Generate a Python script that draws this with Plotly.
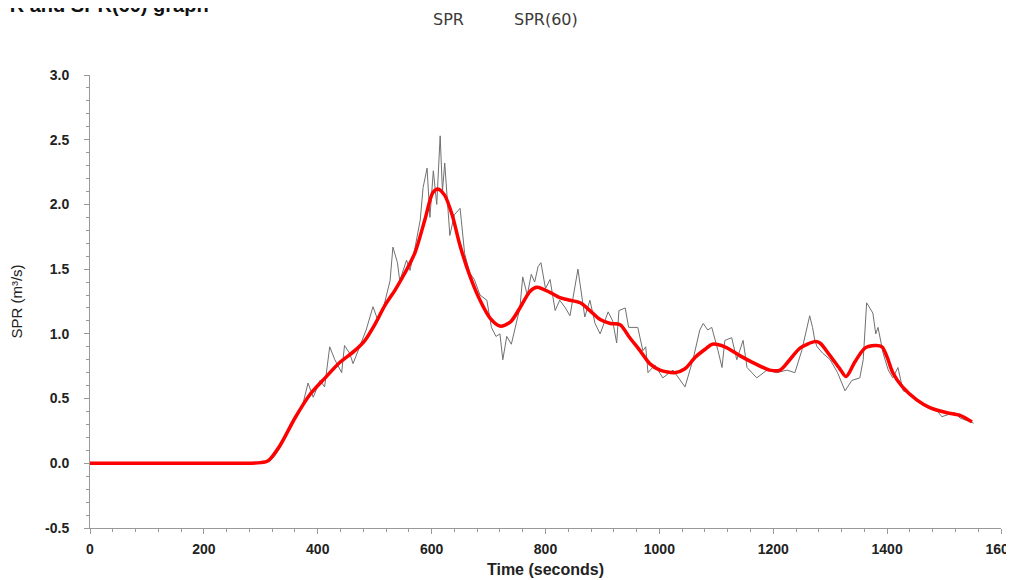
import plotly.graph_objects as go

# Raw SPR series (time in seconds, value in m^3/s)
raw_t = [0, 50, 100, 150, 200, 250, 290, 305, 316, 325, 334, 345, 357, 366, 374, 383, 392, 404, 412,
         421, 430, 442, 447, 456, 462, 474, 485, 497, 506, 514, 527, 532, 540, 544, 556, 562, 571,
         580, 585, 592, 597, 603, 609, 615, 619, 623, 632, 640, 650, 658, 667, 675, 685, 697, 705,
         713, 720, 725, 732, 740, 748, 755, 760, 768, 775, 781, 787, 792, 800, 808, 817, 825, 835,
         843, 857, 869, 878, 887, 896, 910, 918, 925, 929, 940, 946, 962, 971, 976, 980, 992, 1006,
         1024, 1045, 1059, 1071, 1077, 1085, 1092, 1103, 1110, 1115, 1127, 1136, 1147, 1154, 1171,
         1189, 1206, 1224, 1238, 1250, 1264, 1269, 1273, 1277, 1287, 1300, 1313, 1326, 1338, 1352,
         1358, 1364, 1370, 1375, 1380, 1384, 1393, 1402, 1410, 1419, 1428, 1440, 1449, 1470, 1487,
         1496, 1510, 1519, 1528, 1545, 1552]
raw_v = [0.0, 0.0, 0.0, 0.0, 0.0, 0.0, 0.0, 0.0, 0.02, 0.06, 0.12, 0.22, 0.33, 0.40, 0.46, 0.62, 0.51, 0.64, 0.59,
         0.90, 0.80, 0.70, 0.91, 0.85, 0.77, 0.90, 1.03, 1.21, 1.10, 1.18, 1.41, 1.67, 1.55, 1.41, 1.57, 1.49, 1.67,
         1.88, 2.13, 2.28, 1.90, 2.26, 2.00, 2.53, 2.10, 2.32, 1.76, 1.92, 1.97, 1.62, 1.47, 1.42, 1.30, 1.26, 1.05,
         0.98, 1.00, 0.80, 0.98, 0.92, 1.08, 1.20, 1.44, 1.30, 1.46, 1.40, 1.52, 1.55, 1.35, 1.42, 1.18, 1.26, 1.20,
         1.14, 1.50, 1.13, 1.26, 1.08, 1.00, 1.17, 1.10, 0.93, 1.18, 1.20, 1.05, 1.05, 0.87, 0.90, 0.70, 0.76, 0.66,
         0.72, 0.59, 0.80, 1.03, 1.08, 1.03, 1.05, 0.87, 0.74, 0.95, 0.97, 0.80, 0.95, 0.74, 0.66,
         0.72, 0.70, 0.72, 0.70, 0.87, 1.14, 1.05, 0.95, 0.90, 0.85, 0.80, 0.70, 0.56, 0.64, 0.66,
         0.80, 1.24, 1.20, 1.16, 1.00, 1.05, 0.85, 0.72, 0.66, 0.74, 0.56, 0.54, 0.49, 0.43, 0.41,
         0.36, 0.38, 0.39, 0.35, 0.32, 0.31]

# SPR(60) smoothed series
avg_t = [0, 100, 200, 300, 313, 334, 360, 386, 413, 439, 465, 483, 500, 518, 536, 553, 571, 588, 602,
         611, 623, 636, 650, 667, 685, 703, 720, 738, 755, 773, 785, 808, 825, 843, 861, 878, 896,
         914, 931, 948, 966, 983, 1001, 1027, 1045, 1063, 1080, 1093, 1115, 1142, 1168, 1194, 1212,
         1229, 1247, 1273, 1282, 1300, 1317, 1328, 1343, 1361, 1379, 1391, 1400, 1410, 1427, 1452,
         1475, 1505, 1528, 1549]
avg_v = [0.0, 0.0, 0.0, 0.005, 0.02, 0.14, 0.35, 0.53, 0.66, 0.78, 0.87, 0.95, 1.07, 1.22, 1.34, 1.47, 1.63, 1.88, 2.09,
         2.12, 2.07, 1.92, 1.68, 1.45, 1.26, 1.12, 1.06, 1.09, 1.20, 1.33, 1.36, 1.32, 1.28, 1.26, 1.24, 1.18, 1.11,
         1.08, 1.07, 0.97, 0.87, 0.77, 0.72, 0.70, 0.73, 0.82, 0.88, 0.92, 0.90, 0.83, 0.77, 0.72, 0.72,
         0.80, 0.89, 0.94, 0.93, 0.83, 0.73, 0.67, 0.78, 0.89, 0.91, 0.90, 0.82, 0.70, 0.59, 0.49,
         0.43, 0.39, 0.37, 0.32]

x_ticks = [0, 200, 400, 600, 800, 1000, 1200, 1400, 1600]
y_ticks = [-0.5, 0.0, 0.5, 1.0, 1.5, 2.0, 2.5, 3.0]

fig = go.Figure()
fig.add_trace(go.Scatter(x=raw_t, y=raw_v, mode="lines", name="SPR",
                         line=dict(color="#707070", width=1)))
fig.add_trace(go.Scatter(x=avg_t, y=avg_v, mode="lines", name="SPR(60)",
                         line=dict(color="#ff0000", width=3.5, shape="spline", smoothing=0.8)))

FONT = "Liberation Sans, Arial, sans-serif"
axis_font = dict(family=FONT, size=14, color="#222222", weight="bold")

fig.update_layout(
    width=1014, height=580,
    margin=dict(l=82, r=21, t=67, b=60),
    paper_bgcolor="white", plot_bgcolor="white",
    showlegend=False,
    font=dict(family=FONT),
    xaxis=dict(range=[0, 1600], tickvals=x_ticks, ticktext=[str(v) for v in x_ticks],
               automargin=False, ticklabeloverflow="allow",
               showgrid=False, zeroline=False, showline=True, linecolor="#999999", linewidth=1,
               ticks="outside", ticklen=5, tickcolor="#999999", tickfont=axis_font,
               ticklabelstandoff=3,
               minor=dict(ticks="outside", ticklen=3, dtick=40, tickcolor="#999999"),
               title=dict(text="Time (seconds)", font=dict(family=FONT, size=16, color="#222222", weight="bold"),
                          standoff=8)),
    yaxis=dict(range=[-0.5, 3.0], tickvals=y_ticks, ticktext=["%.1f" % v for v in y_ticks],
               automargin=False,
               showgrid=False, zeroline=False, showline=True, linecolor="#999999", linewidth=1,
               ticks="outside", ticklen=5, tickcolor="#999999", tickfont=axis_font,
               ticklabelstandoff=12,
               minor=dict(ticks="outside", ticklen=3, dtick=0.1, tickcolor="#999999"),
               title=dict(text="SPR (m³/s)", font=dict(family=FONT, size=15, color="#222222"),
                          standoff=19)),
    annotations=[
        dict(text="<b>SPR and SPR(60) graph</b>", xref="paper", yref="paper",
             x=-0.1197, y=1.1258, xanchor="left", yanchor="bottom", showarrow=False,
             font=dict(family=FONT, size=20, color="#111111")),
        dict(text="SPR", xref="paper", yref="paper", x=0.394, y=1.1236,
             xanchor="center", yanchor="middle", showarrow=False,
             font=dict(family="DejaVu Sans, sans-serif", size=16, color="#3a3a3a")),
        dict(text="SPR(60)", xref="paper", yref="paper", x=0.5005, y=1.1236,
             xanchor="center", yanchor="middle", showarrow=False,
             font=dict(family="DejaVu Sans, sans-serif", size=16, color="#3a3a3a")),
    ],
)

fig.write_html("out.html")
